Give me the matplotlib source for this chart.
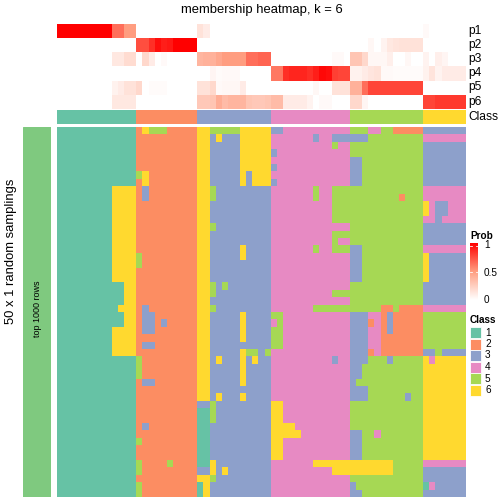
import numpy as np
import matplotlib
matplotlib.use("Agg")
import matplotlib.pyplot as plt
from matplotlib.colors import ListedColormap, LinearSegmentedColormap
from matplotlib.patches import Rectangle

plt.rcParams['font.family'] = ['Liberation Sans', 'DejaVu Sans']

# class colours (1..6)
class_colors = ['#66C2A5', '#FC8D62', '#8DA0CB', '#E78AC3', '#A6D854', '#FFD92F']
class_labels = ['1', '2', '3', '4', '5', '6']

# consensus class of each column
col_class = [1] * 13 + [2] * 10 + [3] * 12 + [4] * 13 + [5] * 12 + [6] * 7

# membership probabilities (top annotation), one value per column
p1 = [1.0] * 9 + [0.65, 0.65, 0.5, 0.5] + [0] * 10 + [0.15, 0.1] + [0] * 35 + [0.03] + [0] * 6
p2 = ([0] * 13 + [0.75, 0.75, 0.85, 0.95, 0.9, 0.92, 1.0, 1.0, 1.0, 1.0] + [0] * 28
      + [0.04, 0, 0.06, 0.12, 0.14, 0.15, 0.15, 0.15, 0.15] + [0] * 7)
p3 = ([0] * 9 + [0.12, 0.12, 0.18, 0.18, 0, 0.2, 0.1, 0, 0.03] + [0] * 5
      + [0.38, 0.4, 0.4, 0.45, 0.5, 0.5, 0.5, 0.5, 0.65, 0.65, 0.68, 0.68]
      + [0] * 10 + [0.03, 0.03, 0]
      + [0.3, 0.3, 0.2, 0.04, 0.04, 0.04, 0.08, 0, 0, 0.04, 0, 0]
      + [0.06, 0, 0.08, 0.05, 0, 0, 0])
p4 = ([0] * 25 + [0.05, 0.02, 0.03, 0.03, 0.03, 0, 0, 0, 0, 0]
      + [0.62, 0.62, 0.85, 0.88, 0.88, 0.88, 0.85, 0.9, 0.97, 0.95, 0.8, 0.78, 0.78]
      + [0.07, 0.07, 0.1, 0.13, 0.15, 0.03, 0.03, 0.02, 0.02, 0.02, 0.02, 0.02]
      + [0.07, 0.14, 0.06, 0.1, 0.1, 0.1, 0.1])
p5 = ([0] * 9 + [0.07, 0.1, 0.15, 0.15, 0.2, 0, 0.02, 0.02, 0.02, 0, 0, 0, 0, 0]
      + [0.15, 0.15, 0.2, 0.03, 0.04, 0.04, 0.04, 0.1, 0, 0, 0, 0]
      + [0] * 7 + [0.04, 0, 0, 0.15, 0.15, 0.15]
      + [0.4, 0.4, 0.65, 0.78, 0.78, 0.78, 0.78, 0.78, 0.78, 0.78, 0.78, 0.78]
      + [0] * 7)
p6 = ([0] * 9 + [0.12, 0.12, 0.12, 0.12] + [0] * 10
      + [0.28, 0.28, 0.3, 0.42, 0.35, 0.38, 0.38, 0.38, 0.3, 0.28, 0.28, 0.3]
      + [0.35, 0.35, 0.1, 0.1, 0.1, 0.1, 0.06, 0, 0.03, 0.03, 0, 0, 0]
      + [0.2, 0.2, 0.05] + [0] * 9
      + [0.78, 0.78, 0.82, 0.82, 0.82, 0.82, 0.82])
prob_names = ['p1', 'p2', 'p3', 'p4', 'p5', 'p6']

# class of each column in each of the 50 random samplings
samplings = [
    "1111111111111" "2655522222" "665555566666" "3344444444444" "555445522222" "3333333",
    "1111111111111" "2222222222" "663633366666" "4444444344333" "333555555555" "4444444",
    "1111111111111" "2222222222" "663333366666" "4444444444544" "555555555555" "3333333",
    "1111111111111" "2222222222" "663333366666" "3444444444444" "555555555555" "3333333",
    "1111111111111" "2222222222" "663333366666" "4444444444444" "335555555555" "3333333",
    "1111111111111" "2222222222" "663333366666" "3444444444444" "335555555555" "3333333",
    "1111111111111" "5622222222" "663333363666" "4444444444444" "335555555555" "3333333",
    "1111111111111" "2622222222" "663333363666" "3444444444444" "335555555555" "3333333",
    "1111111116666" "2322222222" "665333333333" "4444444544555" "555555555555" "4444444",
    "1111111116666" "2322222222" "665333333333" "4444444544555" "555555552555" "4444444",
    "1111111116666" "2222222222" "663333333333" "4444444444555" "555555555555" "6433444",
    "1111111116666" "2222222222" "663333333333" "4444444444555" "555555555555" "6433444",
    "1111111116666" "2222222222" "663333333333" "4444444444555" "555555555555" "4434444",
    "1111111116666" "2222222222" "665333333333" "4444444444444" "555555555555" "3333333",
    "1111111116666" "2222222222" "663333333333" "4444444444555" "555555555555" "3333333",
    "1111111116666" "2222222222" "663333333333" "4444444444544" "555555555555" "3333333",
    "1111111116666" "2222222222" "663333363333" "4444444544555" "335555555555" "4444444",
    "1111111116666" "5222222222" "663333363333" "4444444444444" "335555555555" "6333333",
    "1111111116666" "5222222222" "663333333333" "4444444444444" "335555555555" "6333333",
    "1111111116666" "2222222222" "663333333333" "4444444444444" "335555555555" "6333333",
    "1111111116666" "2222222222" "663333333333" "4444444444444" "335555555555" "6333333",
    "1111111111166" "2222222222" "665353333333" "4444444444444" "555555555555" "3333333",
    "1111111111166" "2222222222" "665333333333" "4444444444555" "555555555555" "3333333",
    "1111111111166" "2222222222" "663333333333" "4444444444444" "555555555555" "3333333",
    "1111111111666" "2322222222" "665333333333" "4444444555555" "555552252222" "4444444",
    "1111111111166" "2332222222" "663333363333" "5544444444444" "333442322222" "5555555",
    "1111111111166" "2332322222" "663333363333" "4544444444444" "333242322222" "5555555",
    "1111111116666" "2332222222" "663333363333" "5544444444444" "333442322222" "5555555",
    "1111111116666" "2222222222" "663333363333" "5544444444444" "333442222222" "5555555",
    "1111111116666" "2332222222" "663333333333" "5544444444444" "333442222222" "5555555",
    "1111111116666" "2222222222" "663333365535" "4444444444444" "333242222222" "3353333",
    "1111111111111" "5222222222" "663633363633" "4444444444344" "333555355555" "6466666",
    "1111111111111" "5222222222" "663333363333" "4444444444444" "335555555555" "6666666",
    "1111111111111" "5222222222" "663333363333" "4444444444444" "335555555555" "6666666",
    "1111111111111" "2332222222" "663333363333" "4444444444444" "355555555555" "6666666",
    "1111111111111" "2222222222" "663333333333" "4444444444444" "333555555555" "6666666",
    "1111111111111" "2222222222" "663633363333" "4444444444444" "333555555355" "6666666",
    "1111111111111" "2222222222" "335333333333" "6644444444444" "555555555555" "6666666",
    "1111111111111" "2222222222" "115333333333" "6644444444444" "555555555555" "6666666",
    "1111111111111" "2222222222" "115333333333" "6644444444444" "555555555555" "6666666",
    "1111111111111" "2322222222" "113333333333" "6666444444444" "555555555555" "6666666",
    "1111111111111" "2222222222" "113333333333" "6666644444444" "335545555555" "6666666",
    "1111111111111" "5222222222" "113333333333" "6644444444444" "335555555555" "6666666",
    "1111111111111" "2222222222" "113333333333" "6644444444444" "335555555555" "6666666",
    "1111111111111" "2222222222" "113333333333" "6644444444444" "335555555555" "6666666",
    "1111111111111" "5222252222" "116333333333" "4444444666666" "666666655555" "4444444",
    "1111111111111" "5222222222" "336363333333" "4444444444666" "666666655555" "3333333",
    "1111111111111" "2222222222" "665333333333" "4444444444444" "555555555555" "3333333",
    "1111111111111" "5222222222" "163333333333" "4444444444444" "355555555555" "1433333",
    "1111111111111" "5222222222" "163333333333" "4444444444444" "335555555555" "3333333",
]

W = H = 504
fig = plt.figure(figsize=(7, 7), dpi=72)


def ax_at(x0, y0, x1, y1):
    a = fig.add_axes([x0 / W, 1 - y1 / H, (x1 - x0) / W, (y1 - y0) / H])
    a.set_axis_off()
    return a


class_cmap = ListedColormap(class_colors)
prob_cmap = LinearSegmentedColormap.from_list('prob', ['#FFFFFF', '#FF9E81', '#FF0000'])

x0, x1 = 56.7, 465

# top annotation: probabilities
ax_p = ax_at(x0, 24, x1, 108.7)
ax_p.imshow(np.array([p1, p2, p3, p4, p5, p6]), cmap=prob_cmap, vmin=0, vmax=1,
            aspect='auto', interpolation='nearest')

# top annotation: class
ax_c = ax_at(x0, 110, x1, 124)
ax_c.imshow(np.array([col_class]) - 1, cmap=class_cmap, vmin=-0.5, vmax=5.5,
            aspect='auto', interpolation='nearest')

# main heatmap
mat = np.array([[int(c) for c in r] for r in samplings])
ax_m = ax_at(x0, 127, x1, 497)
ax_m.imshow(mat - 1, cmap=class_cmap, vmin=-0.5, vmax=5.5,
            aspect='auto', interpolation='nearest')

# left bar
ax_l = ax_at(23, 127, 50.7, 497)
ax_l.add_patch(Rectangle((0, 0), 1, 1, color='#7FC97F'))
ax_l.set_xlim(0, 1)
ax_l.set_ylim(0, 1)

# overlay for texts and legends, in pixel coords
ov = fig.add_axes([0, 0, 1, 1])
ov.set_xlim(0, W)
ov.set_ylim(H, 0)
ov.set_axis_off()
ov.patch.set_alpha(0)

ov.text(262, 10, 'membership heatmap, k = 6', ha='center', va='center', fontsize=13)
for i, name in enumerate(prob_names + ['Class']):
    ov.text(468, 31 + 14.1 * i if i < 6 else 117, name, ha='left', va='center', fontsize=12)

ov.text(11, 251, '50 x 1 random samplings', rotation=90, ha='center', va='center', fontsize=13)
ov.text(37, 309, 'top 1000 rows', rotation=90, ha='center', va='center', fontsize=9)

# Prob legend
ov.text(470, 236, 'Prob', ha='left', va='center', fontsize=10, fontweight='bold')
ax_cb = ax_at(470, 243, 478, 300)
ax_cb.imshow(np.linspace(1, 0, 200)[:, None], cmap=prob_cmap, vmin=0, vmax=1,
             aspect='auto', extent=(0, 1, 0, 1))
ax_cb.set_xlim(0, 1)
ax_cb.set_ylim(0, 1)
for v in [1.0, 0.5]:
    yy = 0.95 if v == 1.0 else 0.5
    ax_cb.plot([0, 0.2], [yy, yy], color='white', lw=0.8)
    ax_cb.plot([0.8, 1], [yy, yy], color='white', lw=0.8)
for lab, yy in [('1', 245), ('0.5', 273), ('0', 300)]:
    ov.text(484, yy, lab, ha='left', va='center', fontsize=10)

# Class legend
ov.text(470, 320, 'Class', ha='left', va='center', fontsize=10, fontweight='bold')
for i, (c, lab) in enumerate(zip(class_colors, class_labels)):
    yc = 332.5 + 11.5 * i
    ov.add_patch(Rectangle((470, yc - 5.5), 11, 11, facecolor=c, edgecolor='white', lw=0.8))
    ov.text(485, yc, lab, ha='left', va='center', fontsize=10)

fig.savefig('out.png', dpi=72)
